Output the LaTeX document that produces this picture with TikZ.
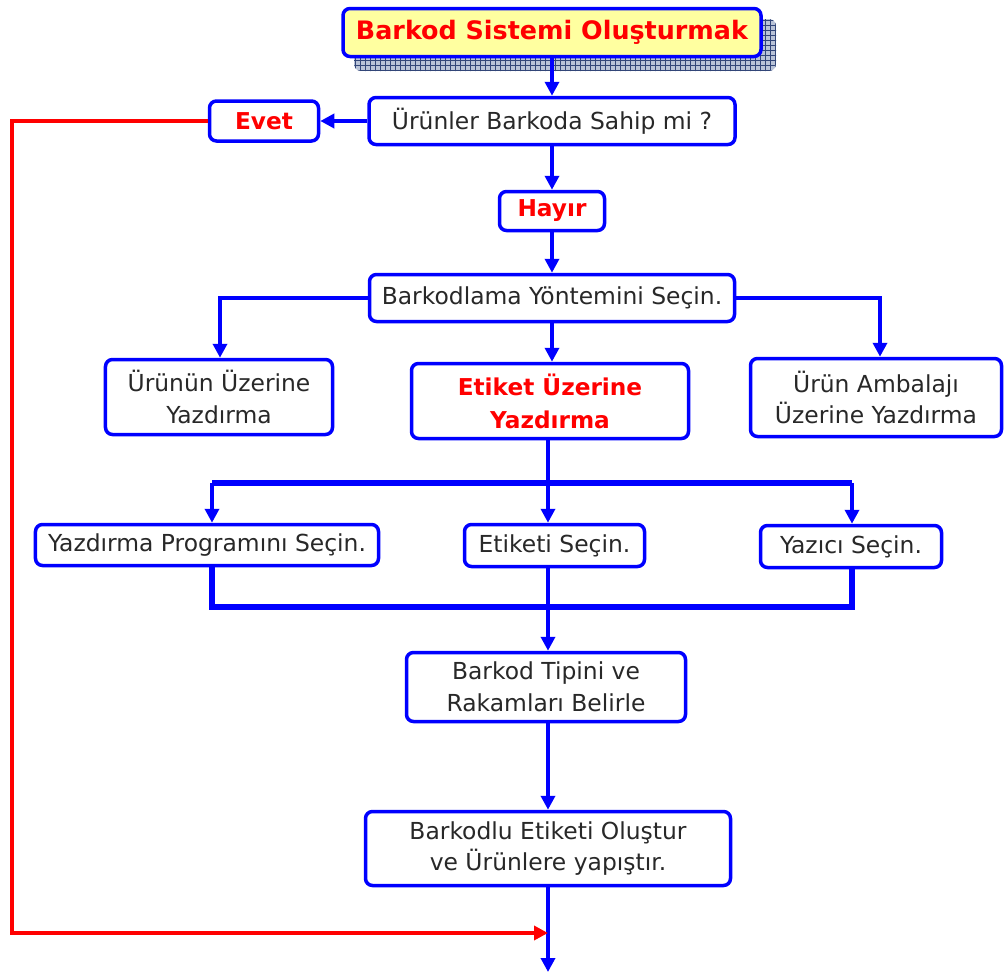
\documentclass[tikz,border=0pt]{standalone}
\usepackage{fontspec}
\setmainfont{DejaVu Sans}
\usetikzlibrary{arrows.meta}
\definecolor{bblue}{RGB}{0,0,255}
\definecolor{rred}{RGB}{255,0,0}
\definecolor{tyellow}{RGB}{255,255,160}
\definecolor{gridc}{RGB}{50,70,120}
\definecolor{shadowc}{RGB}{185,195,215}
\definecolor{txt}{RGB}{40,40,40}
\begin{document}
\begin{tikzpicture}[x=1bp,y=-1bp,
  box/.style={draw=bblue, line width=3.5bp, rounded corners=7bp, fill=white, inner sep=0pt,
    align=center, font=\fontsize{23.5}{32}\selectfont, text=txt},
  redtext/.style={text=rred, font=\fontsize{23.3}{33}\selectfont\bfseries},
  conn/.style={draw=bblue, line width=4bp},
  bus/.style={draw=bblue, line width=6bp},
  arr/.style={conn, -{Triangle[width=14bp,length=14bp]}},
  redarr/.style={draw=rred, line width=4bp, -{Triangle[width=14bp,length=14bp]}}
]
\useasboundingbox (0,0) rectangle (1004,975);

% shadow of title
\begin{scope}
  \clip[rounded corners=7bp] (354,19) rectangle (776,71);
  \fill[shadowc] (354,19) rectangle (776,71);
  \draw[gridc, line width=0.8bp, xstep=5bp, ystep=5bp] (350,15) grid (780,75);
\end{scope}

\node[box, fill=tyellow, minimum width=418bp, minimum height=48bp, text=rred,
  font=\fontsize{25.5}{30}\selectfont\bfseries] (title) at (552,32.5) {Barkod Sistemi Oluşturmak};

\node[box, minimum width=366bp, minimum height=47bp] (q) at (552,121) {Ürünler Barkoda Sahip mi ?};
\node[box, redtext, minimum width=109bp, minimum height=40bp] (evet) at (264,121) {Evet};
\node[box, redtext, minimum width=105bp, minimum height=39bp] (hayir) at (552,211) {Hayır};
\node[box, minimum width=365bp, minimum height=47bp] (method) at (552,298) {Barkodlama Yöntemini Seçin.};
\node[box, minimum width=227bp, minimum height=75bp] (m1) at (219,397) {Ürünün Üzerine\\Yazdırma};
\node[box, redtext, minimum width=277bp, minimum height=75bp] (m2) at (550,401) {Etiket Üzerine\\Yazdırma};
\node[box, minimum width=251bp, minimum height=78bp] (m3) at (876,397.5) {Ürün Ambalajı\\Üzerine Yazdırma};
\node[box, minimum width=343bp, minimum height=41bp] (p1) at (207,545) {Yazdırma Programını Seçin.};
\node[box, minimum width=180bp, minimum height=42bp] (p2) at (554.5,545.5) {Etiketi Seçin.};
\node[box, minimum width=181bp, minimum height=42bp] (p3) at (851,546.5) {Yazıcı Seçin.};
\node[box, minimum width=279bp, minimum height=69bp] (b1) at (546,687) {Barkod Tipini ve\\Rakamları Belirle};
\node[box, minimum width=365bp, minimum height=74bp] (b2) at (548,848.5) {Barkodlu Etiketi Oluştur\\ve Ürünlere yapıştır.};

\coordinate (c1) at (220,298);
\coordinate (c3) at (880,298);
\coordinate (busT) at (548,483);
\coordinate (busL) at (212,483);
\coordinate (busR) at (852,483);
\coordinate (botL) at (212,607);
\coordinate (botM) at (548,607);
\coordinate (botR) at (852,607);
\coordinate (endA) at (548,972);
\coordinate (rTop) at (12,121);
\coordinate (rBot) at (12,933);
\coordinate (rEnd) at (548,933);

\draw[arr] (title.south) -- (q.north);
\draw[arr] (q.west) -- (evet.east);
\draw[arr] (q.south) -- (hayir.north);
\draw[arr] (hayir.south) -- (method.north);
\draw[arr] (method.west) -- (c1) -- (c1 |- m1.north);
\draw[arr] (method.east) -- (c3) -- (c3 |- m3.north);
\draw[arr] (method.south) -- (method.south |- m2.north);

\draw[conn] (m2.south -| busT) -- (busT);
\draw[bus] (busL) -- (busR);
\draw[arr] (busL) -- (busL |- p1.north);
\draw[arr] (busT) -- (busT |- p2.north);
\draw[arr] (busR) -- (busR |- p3.north);

\draw[bus] (botL |- p1.south) -- (botL) -- (botR) -- (botR |- p3.south);
\draw[conn] (botM |- p2.south) -- (botM);
\draw[arr] (botM) -- (botM |- b1.north);
\draw[arr] (b1.south -| botM) -- (botM |- b2.north);
\draw[arr] (b2.south -| endA) -- (endA);

\draw[redarr] (evet.west) -- (rTop) -- (rBot) -- (rEnd);
\end{tikzpicture}
\end{document}
